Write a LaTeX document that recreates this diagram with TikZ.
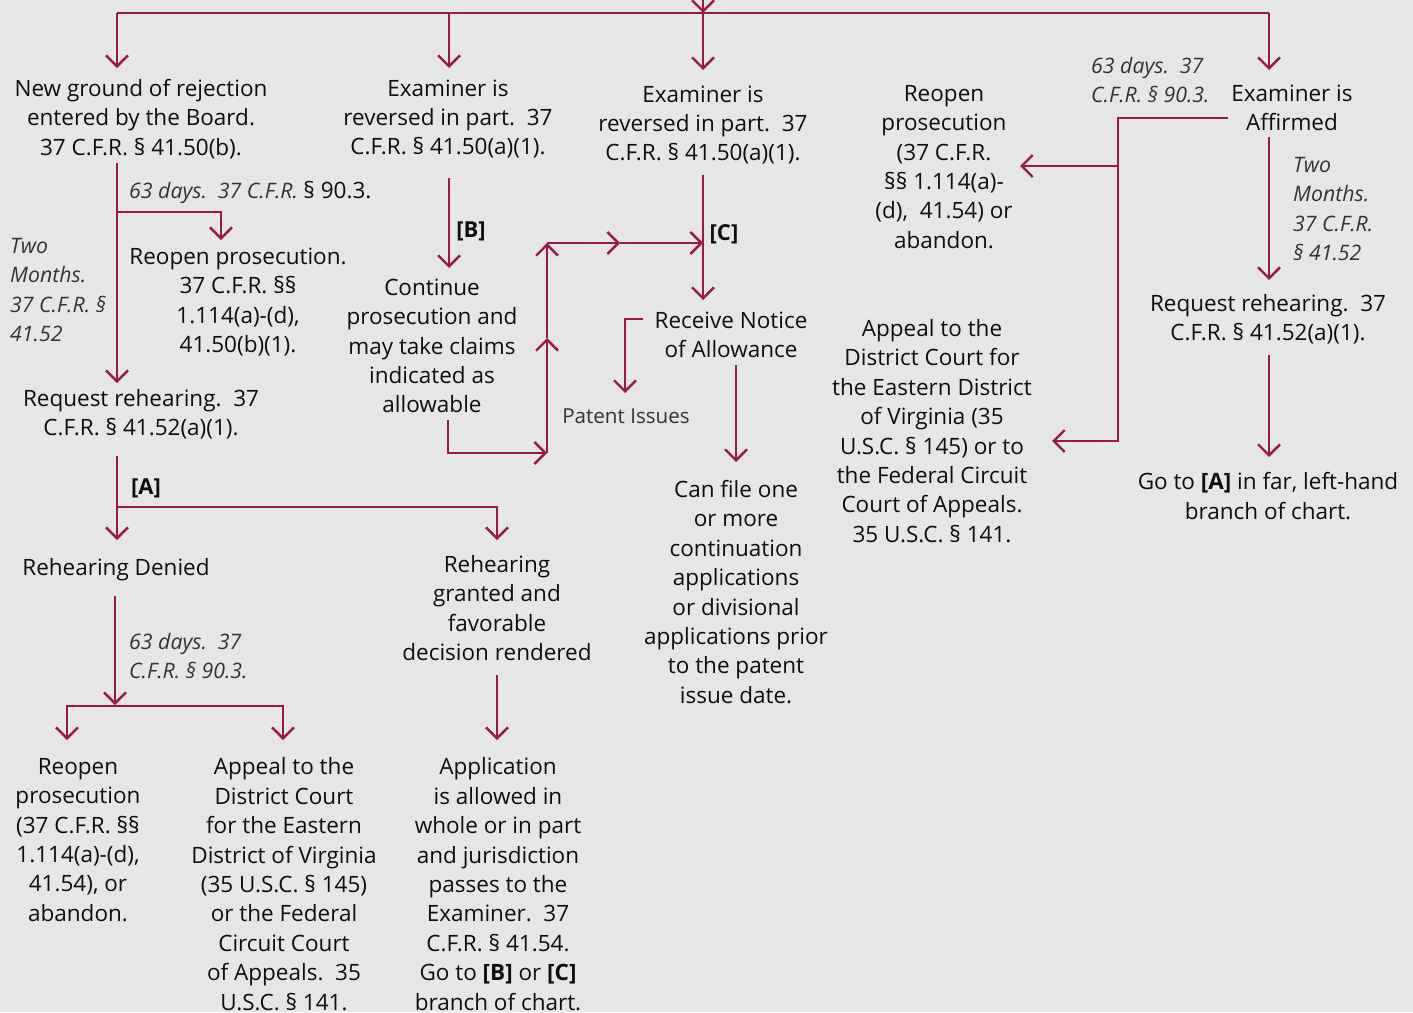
\documentclass[tikz,border=0pt]{standalone}
\usepackage{fontspec}
\setmainfont{Open Sans}
\usetikzlibrary{arrows.meta}
\definecolor{bg}{HTML}{E6E6E8}
\definecolor{ln}{HTML}{9B1B3E}
\definecolor{itc}{HTML}{333333}
\definecolor{txc}{HTML}{0E0E0E}
\begin{document}
\begin{tikzpicture}[x=1pt,y=-1pt,
  barb/.tip={Straight Barb[length=11pt,width=22pt,line width=2.4pt]},
  conn/.style={draw=ln, line width=2.4pt, -barb},
  plain/.style={draw=ln, line width=2.4pt},
  txt/.style={align=center, inner sep=0pt, text=txc, font=\fontsize{22.5}{29.4}\selectfont},
  note/.style={align=left, inner sep=0pt, text=itc, anchor=west, font=\fontsize{21.3}{29.4}\selectfont\itshape},
  lbl/.style={inner sep=0pt, text=txc, font=\fontsize{22}{25}\selectfont\bfseries}]
\fill[bg] (0,0) rectangle (1413,1012);
\clip (0,0) rectangle (1413,1012);

% ---------- text nodes ----------
\node[txt] (newground) at (141,119) {New ground of rejection\\entered by the Board.\\37 C.F.R. § 41.50(b).};
\node[txt] (revB) at (448,119) {Examiner is\\reversed in part.\ \ 37\\C.F.R. § 41.50(a)(1).};
\node[txt] (revC) at (703,125) {Examiner is\\reversed in part.\ \ 37\\C.F.R. § 41.50(a)(1).};
\node[txt] (affirmed) at (1292,108) {Examiner is\\Affirmed};
\node[txt] (reopenR) at (944,167) {Reopen\\prosecution\\(37 C.F.R.\\§§ 1.114(a)-\\(d),\ \ 41.54) or\\abandon.};
\node[txt] (appealR) at (932,431) {Appeal to the\\District Court for\\the Eastern District\\of Virginia (35\\U.S.C. § 145) or to\\the Federal Circuit\\Court of Appeals.\\35 U.S.C. § 141.};
\node[txt] (reqR) at (1268,319) {Request rehearing.\ \ 37\\C.F.R. § 41.52(a)(1).};
\node[txt] (gotoA) at (1268,496) {Go to \textbf{[A]} in far, left-hand\\branch of chart.};
\node[note] (daysR) at (1091,80) {63 days.\ \ 37\\C.F.R. § 90.3.};
\node[note] (monthsR) at (1293,209) {Two\\Months.\\37 C.F.R.\\§ 41.52};

\node[txt] (reopenL) at (238,302) {Reopen prosecution.\\37 C.F.R. §§\\1.114(a)-(d),\\41.50(b)(1).};
\node[note] (daysL) at (129,192) {63 days.\ \ 37 C.F.R. {\upshape\color{txc}\fontsize{22.5}{29.4}\selectfont § 90.3.}};
\node[note] (monthsL) at (10,290) {Two\\Months.\\37 C.F.R. §\\41.52};
\node[txt] (reqL) at (141,414) {Request rehearing.\ \ 37\\C.F.R. § 41.52(a)(1).};
\node[lbl] (labA) at (146,488) {[A]};
\node[lbl] (labB) at (471,231) {[B]};
\node[lbl] (labC) at (724,234) {[C]};
\node[txt] (continue) at (432,346) {Continue\\prosecution and\\may take claims\\indicated as\\allowable};
\node[txt] (notice) at (731,335) {Receive Notice\\of Allowance};
\node[txt, text=itc, font=\fontsize{20.6}{24}\selectfont] (issues) at (626,416) {Patent Issues};
\node[txt] (canfile) at (736,592) {Can file one\\or more\\continuation\\applications\\or divisional\\applications prior\\to the patent\\issue date.};
\node[txt] (denied) at (116,570) {Rehearing Denied};
\node[txt] (granted) at (497,608) {Rehearing\\granted and\\favorable\\decision rendered};
\node[note] (daysB) at (129,656) {63 days.\ \ 37\\C.F.R. § 90.3.};
\node[txt] (reopenB) at (78,840) {Reopen\\prosecution\\(37 C.F.R. §§\\1.114(a)-(d),\\41.54), or\\abandon.};
\node[txt] (appealB) at (284,884) {Appeal to the\\District Court\\for the Eastern\\District of Virginia\\(35 U.S.C. § 145)\\or the Federal\\Circuit Court\\of Appeals.\ \ 35\\U.S.C. § 141.};
\node[txt] (allowed) at (498,884) {Application\\is allowed in\\whole or in part\\and jurisdiction\\passes to the\\Examiner.\ \ 37\\C.F.R. § 41.54.\\Go to \textbf{[B]} or \textbf{[C]}\\branch of chart.};

% ---------- connector coordinates ----------
\coordinate (in) at (703,-30);
\coordinate (tc) at (703,13);
\coordinate (tl) at (117,13);
\coordinate (tb) at (449,13);
\coordinate (tr) at (1269,13);

% ---------- connectors ----------
\draw[conn] (in) -- (tc);
\draw[plain] (tl) -- (tr);
\draw[conn] (tl) -- (117,68);
\draw[conn] (tb) -- (449,68);
\draw[conn] (tc) -- (703,70);
\draw[conn] (tr) -- (1269,70);

% left column
\coordinate (l1) at (117,163);
\coordinate (l2) at (117,212);
\draw[conn] (l1) -- (117,383);
\draw[conn] (l2) -| (221,240);
\coordinate (l3) at (117,456);
\coordinate (l4) at (117,507);
\draw[conn] (l3) -- (117,540);
\draw[conn] (l4) -| (497,540);
\coordinate (l5) at (115,596);
\draw[conn] (l5) -- (115,705);
\draw[plain, barb-barb] (67,740) -- (67,706) -- (283,706) -- (283,740);
\coordinate (g1) at (497,675);
\draw[conn] (g1) -- (497,740);

% column B
\coordinate (b1) at (449,178);
\draw[conn] (b1) -- (449,268);
\coordinate (b2) at (448,420);
\coordinate (b3) at (547,453);
\coordinate (b4) at (547,338);
\coordinate (b5) at (547,243);
\coordinate (b6) at (620,243);
\coordinate (c2) at (703,243);
\draw[conn] (b2) |- (b3);
\draw[conn] (b3) -- (b4);
\draw[conn] (b4) -- (b5);
\draw[conn] (b5) -- (b6);
\draw[conn] (b6) -- (c2);

% column C
\coordinate (c1) at (703,175);
\draw[conn] (c1) -- (703,300);
\coordinate (c3) at (643,319);
\draw[conn] (c3) -| (625,393);
\coordinate (c4) at (736,365);
\draw[conn] (c4) -- (736,462);

% right
\coordinate (r1) at (1228,118);
\coordinate (r2) at (1118,118);
\coordinate (r3) at (1118,166);
\coordinate (r4) at (1118,441);
\draw[conn] (r1) -- (r2) -- (r4) -- (1052,441);
\draw[conn] (r3) -- (1020,166);
\coordinate (r5) at (1269,137);
\draw[conn] (r5) -- (1269,280);
\coordinate (r6) at (1269,355);
\draw[conn] (r6) -- (1269,457);
\end{tikzpicture}
\end{document}
